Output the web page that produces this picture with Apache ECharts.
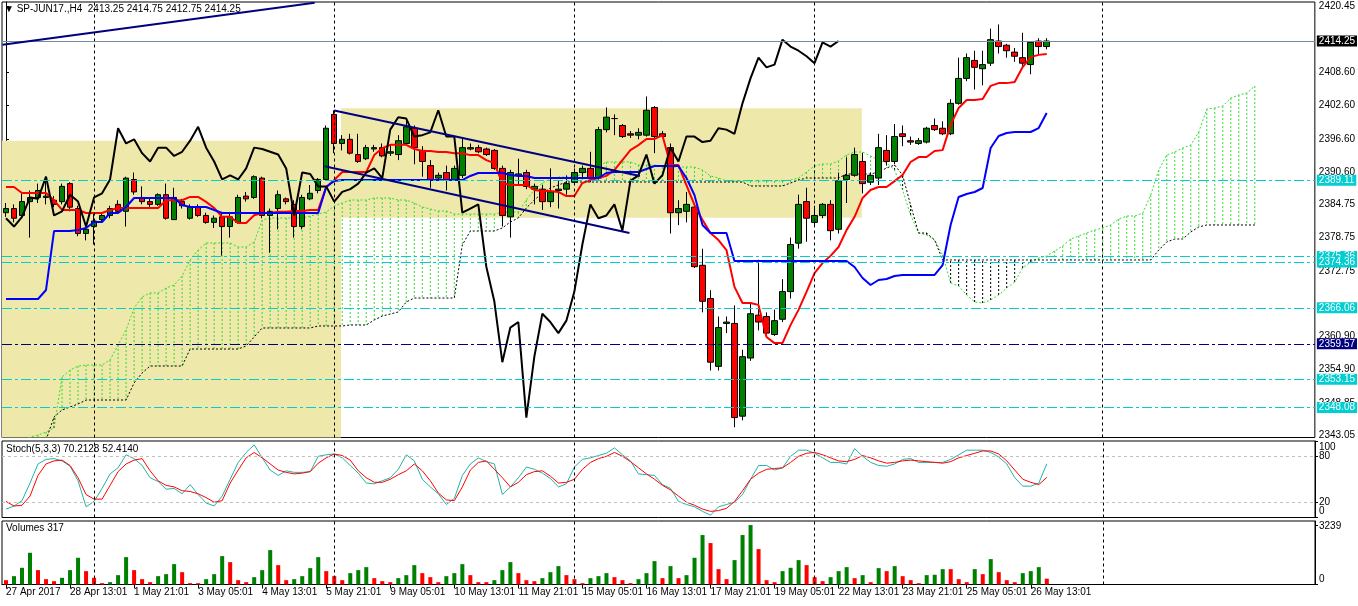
<!DOCTYPE html>
<html>
<head>
<meta charset="utf-8">
<title>SP-JUN17.,H4</title>
<script src="https://cdn.jsdelivr.net/npm/echarts@6.0.0/dist/echarts.min.js"></script>
<style>
  html, body { margin: 0; padding: 0; background: #fff; }
  #chart { width: 1358px; height: 606px; }
</style>
</head>
<body>
<div id="chart"></div>
<script>
// time axis labels, one every 8 bars
const timeLabels = ['27 Apr 2017', '28 Apr 13:01', '1 May 21:01', '3 May 05:01', '4 May 13:01', '5 May 21:01',
  '9 May 05:01', '10 May 13:01', '11 May 21:01', '15 May 05:01', '16 May 13:01', '17 May 21:01',
  '19 May 05:01', '22 May 13:01', '23 May 21:01', '25 May 05:01', '26 May 13:01'];

// H4 bars: [open, close, low, high]
const candles = [
  [2383.25, 2384.0, 2382.5, 2385.0], [2384.0, 2382.25, 2381.5, 2384.75], [2382.75, 2385.25, 2382.25, 2386.75], [2385.25, 2386.0, 2378.75, 2387.25], [2386.0, 2387.25, 2385.0, 2388.5],
  [2386.0, 2386.25, 2384.75, 2389.75], [2385.5, 2384.75, 2384.25, 2386.25], [2385.25, 2388.0, 2384.75, 2388.5], [2388.5, 2384.25, 2383.5, 2388.75], [2384.0, 2379.5, 2379.0, 2384.5],
  [2379.5, 2380.25, 2378.25, 2380.75], [2380.75, 2381.75, 2377.5, 2383.25], [2382.0, 2382.75, 2381.75, 2383.25], [2382.75, 2384.0, 2382.25, 2384.5], [2384.75, 2383.5, 2383.0, 2385.5],
  [2383.5, 2389.5, 2380.75, 2389.75], [2389.25, 2387.0, 2386.5, 2390.5], [2386.0, 2385.25, 2384.75, 2388.0], [2385.25, 2384.75, 2384.25, 2385.75], [2384.75, 2386.5, 2384.5, 2386.75],
  [2386.5, 2382.25, 2382.0, 2388.5], [2382.0, 2386.0, 2382.0, 2387.75], [2385.25, 2384.5, 2384.0, 2385.75], [2382.25, 2384.25, 2382.0, 2384.75], [2384.25, 2382.75, 2382.5, 2384.75],
  [2382.75, 2381.5, 2381.25, 2383.25], [2381.5, 2382.25, 2380.5, 2382.75], [2382.5, 2380.75, 2375.5, 2383.25], [2380.75, 2382.5, 2378.75, 2383.25], [2381.5, 2386.0, 2381.25, 2386.5],
  [2386.25, 2385.75, 2385.25, 2387.0], [2386.0, 2389.75, 2385.75, 2390.0], [2389.5, 2382.75, 2382.25, 2389.75], [2382.75, 2383.5, 2376.0, 2384.0], [2384.0, 2386.5, 2380.25, 2387.25],
  [2385.75, 2385.25, 2384.75, 2386.0], [2384.75, 2380.75, 2378.75, 2385.5], [2380.75, 2386.0, 2380.25, 2386.5], [2385.75, 2386.75, 2385.5, 2388.25], [2387.25, 2389.25, 2386.75, 2389.5],
  [2389.25, 2398.5, 2389.0, 2399.0], [2401.0, 2395.75, 2394.0, 2401.75], [2395.75, 2396.5, 2394.5, 2397.25], [2396.5, 2394.0, 2393.75, 2397.5], [2393.75, 2392.5, 2392.25, 2397.5],
  [2393.0, 2395.0, 2392.75, 2395.5], [2394.75, 2395.0, 2394.25, 2395.5], [2395.0, 2393.5, 2393.25, 2395.75], [2394.0, 2394.25, 2393.5, 2395.5], [2393.75, 2396.25, 2392.75, 2397.25],
  [2395.75, 2398.75, 2395.5, 2400.0], [2398.5, 2395.0, 2392.0, 2399.0], [2394.5, 2392.5, 2389.75, 2395.25], [2391.75, 2389.25, 2387.75, 2392.75], [2389.5, 2390.0, 2389.0, 2390.5],
  [2390.5, 2389.25, 2387.25, 2391.75], [2389.25, 2391.25, 2389.0, 2391.75], [2390.0, 2395.0, 2389.5, 2396.75], [2395.0, 2394.75, 2394.5, 2395.75], [2395.0, 2394.25, 2394.0, 2395.5],
  [2394.75, 2393.75, 2393.5, 2395.0], [2394.5, 2391.25, 2391.0, 2394.75], [2391.25, 2382.75, 2380.75, 2391.75], [2382.5, 2390.5, 2378.75, 2391.0], [2390.0, 2390.25, 2388.25, 2393.0],
  [2390.5, 2388.0, 2387.5, 2391.0], [2387.5, 2388.0, 2384.75, 2388.5], [2387.5, 2385.25, 2383.75, 2388.25], [2385.25, 2387.0, 2384.25, 2391.25], [2387.25, 2387.5, 2384.0, 2389.0],
  [2387.5, 2388.5, 2386.5, 2390.0], [2388.75, 2390.5, 2388.25, 2391.25], [2390.5, 2391.25, 2389.5, 2391.75], [2391.25, 2389.5, 2388.75, 2394.25], [2389.5, 2398.25, 2389.25, 2398.75],
  [2398.25, 2400.5, 2397.75, 2402.25], [2400.25, 2400.25, 2397.25, 2401.0], [2399.0, 2397.0, 2396.75, 2399.25], [2397.5, 2397.25, 2396.75, 2398.0], [2397.25, 2397.75, 2396.5, 2398.5],
  [2397.25, 2401.75, 2397.0, 2404.25], [2402.25, 2397.0, 2394.0, 2402.5], [2397.5, 2397.0, 2396.75, 2398.0], [2395.0, 2383.25, 2379.5, 2395.75], [2383.25, 2384.0, 2381.0, 2385.5],
  [2383.5, 2384.75, 2381.5, 2387.0], [2384.25, 2373.5, 2373.25, 2384.75], [2373.75, 2367.25, 2365.25, 2376.75], [2367.75, 2356.25, 2354.75, 2369.25], [2355.5, 2362.5, 2354.75, 2364.5],
  [2363.25, 2363.5, 2361.5, 2364.5], [2363.25, 2346.25, 2344.5, 2366.5], [2346.5, 2357.25, 2345.75, 2358.5], [2357.0, 2365.0, 2356.5, 2367.0], [2364.75, 2363.5, 2362.0, 2374.75],
  [2364.5, 2361.5, 2360.75, 2365.25], [2361.25, 2363.75, 2361.0, 2365.75], [2364.0, 2369.0, 2363.5, 2371.25], [2369.0, 2377.5, 2367.75, 2378.75], [2377.75, 2384.75, 2376.75, 2386.5],
  [2385.25, 2382.25, 2378.0, 2387.75], [2381.5, 2382.75, 2380.75, 2384.5], [2382.75, 2384.75, 2382.25, 2385.0], [2384.75, 2380.0, 2378.25, 2385.5], [2380.25, 2389.0, 2379.5, 2390.5],
  [2389.25, 2390.0, 2385.0, 2393.25], [2390.0, 2393.75, 2389.75, 2395.0], [2392.5, 2388.5, 2386.75, 2394.0], [2388.75, 2390.0, 2388.25, 2390.5], [2389.5, 2395.0, 2388.25, 2397.5],
  [2394.5, 2392.5, 2391.75, 2397.25], [2392.5, 2397.0, 2392.0, 2399.25], [2397.5, 2397.0, 2395.25, 2399.0], [2396.25, 2396.0, 2395.5, 2397.0], [2395.75, 2396.25, 2395.5, 2396.75],
  [2396.0, 2398.5, 2395.75, 2398.75], [2399.0, 2398.25, 2398.0, 2400.25], [2398.5, 2397.5, 2397.25, 2399.75], [2397.5, 2403.0, 2397.25, 2403.75], [2403.0, 2407.5, 2402.75, 2411.25],
  [2407.5, 2411.25, 2407.0, 2412.0], [2410.75, 2409.5, 2405.5, 2412.5], [2409.25, 2410.0, 2406.25, 2412.5], [2410.25, 2414.5, 2409.75, 2416.5], [2414.25, 2413.25, 2412.0, 2417.25],
  [2413.5, 2412.5, 2411.25, 2413.75], [2412.25, 2411.5, 2410.5, 2413.0], [2411.25, 2410.25, 2409.75, 2415.75], [2410.0, 2414.0, 2408.25, 2414.25], [2414.25, 2413.25, 2411.75, 2414.75],
  [2413.25, 2414.25, 2412.75, 2414.75]
];

// Ichimoku Tenkan-sen (red)
const tenkan = [
  2387.9, 2387.9, 2386.8, 2386.8, 2386.8, 2386.8, 2385.5, 2383.75, 2383.75, 2383.75,
  2383.2, 2383.2, 2383.2, 2383.75, 2384.1, 2384.1, 2384.1, 2384.1, 2384.1, 2384.1,
  2385.5, 2385.5, 2385.5, 2386.1, 2386.1, 2385.2, 2384.1, 2382.5, 2382.5, 2381.4,
  2381.4, 2382.8, 2383.2, 2383.2, 2383.4, 2383.4, 2383.55, 2383.55, 2383.75, 2383.75,
  2387.9, 2389.15, 2390.6, 2390.6, 2390.6, 2390.6, 2393.65, 2394.9, 2395.5, 2395.5,
  2395.5, 2394.75, 2394.4, 2394.4, 2394.2, 2394.2, 2394.0, 2394.0, 2393.65, 2393.65,
  2392.75, 2392.2, 2388.6, 2388.25, 2388.25, 2388.25, 2387.35, 2387.15, 2387.15, 2387.0,
  2386.25, 2386.25, 2388.6, 2389.15, 2389.5, 2389.9, 2390.95, 2392.75, 2394.55, 2395.45,
  2396.55, 2396.55, 2397.25, 2391.85, 2391.85, 2388.25, 2384.65, 2381.95, 2379.6, 2378.3,
  2376.5, 2369.85, 2366.95, 2366.95, 2366.6, 2360.8, 2359.7, 2359.7, 2362.95, 2365.7,
  2368.95, 2372.35, 2374.15, 2375.45, 2377.05, 2380.1, 2382.5, 2385.9, 2387.35, 2387.9,
  2387.9, 2388.95, 2390.05, 2392.4, 2393.3, 2393.3, 2394.4, 2394.55, 2399.1, 2402.15,
  2403.6, 2403.6, 2403.8, 2406.15, 2406.65, 2406.65, 2406.85, 2409.55, 2411.35, 2411.75,
  2411.9
];

// Ichimoku Kijun-sen (blue)
const kijun = [
  2367.66, 2367.66, 2367.66, 2367.66, 2367.66, 2369.29, 2379.94, 2379.94, 2379.94, 2380.12,
  2380.48, 2381.57, 2381.57, 2383.19, 2383.19, 2384.28, 2385.9, 2385.9, 2385.9, 2385.9,
  2385.9, 2385.9, 2384.64, 2384.28, 2384.28, 2384.28, 2383.74, 2383.19, 2383.19, 2383.19,
  2383.19, 2383.19, 2383.19, 2383.19, 2383.19, 2383.19, 2383.19, 2383.19, 2383.19, 2383.19,
  2387.89, 2388.97, 2389.15, 2389.15, 2389.15, 2389.15, 2389.15, 2389.15, 2389.15, 2389.15,
  2389.15, 2389.15, 2389.15, 2389.15, 2389.15, 2389.15, 2389.15, 2389.15, 2389.88, 2390.42,
  2390.42, 2390.42, 2390.42, 2390.06, 2389.88, 2389.88, 2389.51, 2389.51, 2389.51, 2389.51,
  2389.51, 2389.51, 2389.51, 2389.51, 2389.51, 2390.42, 2390.6, 2390.6, 2390.6, 2390.6,
  2391.14, 2391.68, 2391.68, 2391.68, 2391.68, 2389.51, 2386.44, 2381.03, 2379.58, 2379.58,
  2379.58, 2374.53, 2374.53, 2374.53, 2374.53, 2374.53, 2374.53, 2374.53, 2374.53, 2374.53,
  2374.53, 2374.53, 2374.53, 2374.53, 2374.53, 2374.53, 2373.44, 2371.46, 2370.19, 2371.09,
  2371.27, 2371.82, 2372.0, 2372.0, 2372.0, 2372.0, 2372.0, 2373.8, 2381.03, 2386.08,
  2386.62, 2386.99, 2387.71, 2394.93, 2397.1, 2397.64, 2397.82, 2397.82, 2397.82, 2398.54,
  2401.25
];

// Senkou Span A / B, already shifted 26 bars ahead (157 points)
const spanA = [
  2341.30, 2341.30, 2341.84, 2342.74, 2343.10, 2343.64, 2344.37, 2353.58, 2354.84, 2355.56,
  2355.74, 2355.74, 2355.74, 2356.65, 2359.36, 2362.07, 2366.04, 2368.02, 2368.75, 2368.75,
  2369.65, 2370.19, 2371.82, 2374.71, 2376.51, 2377.78, 2377.78, 2377.78, 2377.78, 2377.05,
  2377.05, 2377.96, 2381.93, 2382.29, 2382.29, 2382.29, 2382.29, 2382.29, 2382.65, 2383.01,
  2383.37, 2384.46, 2385.00, 2385.54, 2385.54, 2385.54, 2385.90, 2385.90, 2385.90, 2385.54,
  2385.54, 2385.00, 2384.28, 2383.92, 2383.56, 2383.56, 2383.01, 2383.01, 2383.01, 2383.01,
  2383.01, 2383.01, 2383.37, 2383.37, 2383.37, 2385.54, 2387.35, 2388.61, 2389.33, 2389.70,
  2389.70, 2389.70, 2390.24, 2390.96, 2391.68, 2392.41, 2392.41, 2392.41, 2392.41, 2391.86,
  2391.86, 2391.86, 2391.50, 2391.50, 2391.50, 2391.50, 2391.50, 2390.96, 2389.88, 2389.51,
  2388.97, 2388.97, 2388.97, 2388.97, 2388.97, 2388.97, 2388.97, 2388.97, 2389.15, 2389.51,
  2390.60, 2391.68, 2392.04, 2392.04, 2392.59, 2393.67, 2394.21, 2394.21, 2393.49, 2392.77,
  2392.22, 2390.96, 2387.35, 2382.83, 2379.58, 2379.22, 2378.32, 2375.61, 2370.55, 2370.01,
  2368.39, 2367.12, 2366.94, 2367.48, 2368.39, 2369.65, 2370.73, 2373.26, 2374.35, 2375.07,
  2375.43, 2376.33, 2377.24, 2378.50, 2379.04, 2379.58, 2380.12, 2380.49, 2381.03, 2382.11,
  2382.65, 2382.65, 2383.19, 2386.44, 2390.96, 2393.67, 2394.21, 2394.93, 2395.47, 2397.82,
  2401.98, 2402.16, 2402.52, 2403.96, 2404.50, 2404.87, 2406.13
];
const spanB = [
  2342.20, 2342.20, 2342.20, 2342.20, 2342.20, 2342.20, 2346.36, 2347.62, 2348.16, 2348.70,
  2349.42, 2349.42, 2349.42, 2349.42, 2349.42, 2349.42, 2352.49, 2354.30, 2355.56, 2355.56,
  2355.56, 2355.56, 2355.56, 2358.63, 2358.63, 2358.63, 2358.63, 2358.63, 2358.63, 2358.63,
  2359.18, 2360.80, 2362.43, 2362.43, 2362.43, 2362.43, 2362.43, 2362.43, 2362.43, 2362.79,
  2362.79, 2362.79, 2362.79, 2362.97, 2362.97, 2362.97, 2363.87, 2364.59, 2364.95, 2365.32,
  2367.12, 2367.84, 2367.84, 2367.84, 2367.84, 2367.84, 2367.84, 2377.42, 2379.94, 2379.94,
  2379.94, 2379.94, 2380.49, 2381.57, 2382.29, 2384.10, 2385.54, 2386.81, 2387.71, 2388.25,
  2388.79, 2388.79, 2388.79, 2388.79, 2388.79, 2388.79, 2388.79, 2388.79, 2388.79, 2388.79,
  2388.79, 2388.79, 2388.79, 2388.79, 2388.79, 2388.79, 2388.79, 2388.79, 2388.79, 2388.79,
  2388.79, 2388.79, 2388.79, 2388.07, 2388.07, 2388.07, 2388.07, 2388.07, 2388.61, 2389.15,
  2389.51, 2389.51, 2389.51, 2389.51, 2389.51, 2390.24, 2390.24, 2390.24, 2390.24, 2390.60,
  2391.32, 2391.86, 2390.06, 2384.64, 2379.58, 2379.58, 2378.32, 2374.71, 2374.71, 2374.71,
  2374.71, 2374.71, 2374.71, 2374.71, 2374.71, 2374.71, 2374.71, 2374.71, 2374.71, 2374.71,
  2374.71, 2374.71, 2374.71, 2374.71, 2374.71, 2374.71, 2374.71, 2374.71, 2374.71, 2374.71,
  2374.71, 2374.71, 2374.71, 2374.71, 2376.51, 2377.96, 2378.50, 2378.50, 2379.76, 2380.67,
  2381.03, 2381.03, 2381.03, 2381.03, 2381.03, 2381.03, 2381.03
];

// Stochastic(5,3,3)
const stochK = [
  11, 15, 22, 45, 70, 76, 77, 74, 67, 48,
  14, 21, 38, 57, 65, 82, 77, 68, 52, 47,
  37, 38, 31, 43, 30, 19, 15, 28, 50, 72,
  85, 95, 78, 62, 55, 61, 59, 59, 60, 80,
  82, 83, 78, 68, 58, 45, 44, 48, 52, 63,
  82, 74, 50, 40, 31, 17, 25, 55, 70, 78,
  73, 70, 30, 40, 52, 66, 63, 58, 51, 40,
  44, 66, 76, 78, 81, 84, 91, 82, 74, 57,
  56, 55, 43, 38, 21, 17, 14, 8, 3, 14,
  17, 20, 30, 50, 68, 68, 62, 65, 80, 88,
  88, 84, 78, 72, 72, 70, 90, 80, 72, 68,
  67, 70, 76, 77, 72, 72, 72, 72, 76, 82,
  88, 88, 88, 85, 79, 70, 52, 41, 41, 45,
  70.2128
];
const stochD = [
  21, 15, 16, 28, 55, 70, 74, 75, 68, 52,
  30, 24, 24, 42, 60, 70, 75, 77, 61, 48,
  42, 40, 35, 34, 31, 26, 20, 22, 45, 62,
  78, 85, 78, 70, 62, 59, 57, 58, 60, 71,
  78, 83, 81, 75, 61, 52, 46, 46, 50, 56,
  61, 70, 61, 48, 32, 23, 22, 40, 62, 72,
  74, 63, 52, 40, 46, 56, 60, 61, 54, 45,
  46, 50, 63, 72, 77, 80, 85, 80, 73, 65,
  57, 50, 42, 36, 28, 20, 16, 11, 8, 9,
  12, 21, 35, 50, 58, 63, 64, 65, 72, 80,
  84, 85, 82, 78, 74, 73, 76, 81, 78, 74,
  71, 72, 74, 75, 74, 73, 72, 71, 73, 78,
  81, 84, 87, 87, 83, 74, 62, 50, 46, 43,
  52.414
];

// tick volumes
const volumes = [
  237, 455, 910, 1729, 783, 291, 182, 364, 783, 1456,
  728, 364, 73, 127, 510, 1492, 783, 291, 127, 455,
  564, 1110, 673, 73, 73, 291, 564, 1547, 1219, 237,
  127, 400, 783, 1875, 1056, 237, 291, 455, 892, 1492,
  728, 455, 237, 619, 783, 946, 346, 182, 127, 346,
  510, 1056, 619, 400, 127, 455, 619, 1110, 510, 127,
  127, 237, 783, 1219, 619, 237, 182, 346, 673, 1001,
  510, 291, 73, 346, 455, 619, 400, 237, 73, 291,
  619, 1274, 346, 1001, 346, 510, 1456, 2694, 2257, 837,
  291, 1329, 2694, 3239, 1929, 237, 127, 728, 910, 1329,
  1056, 400, 182, 400, 728, 946, 346, 510, 127, 892,
  728, 1001, 455, 237, 73, 510, 530, 837, 837, 291,
  127, 837, 564, 1383, 673, 237, 127, 619, 728, 946,
  317
];

// price scale labels, levels and chart objects
const priceTicks = [2420.45, 2408.60, 2402.60, 2396.60, 2390.60, 2384.75, 2378.75, 2372.75, 2360.90, 2354.90, 2348.85, 2343.05];
const stochLevels = [20, 80];
const stochBounds = [0, 100];
const volumeTicks = [0, 3239];
const cyanLevels = [2389.11, 2375.36, 2374.36, 2366.06, 2353.15, 2348.08];
const navyLevel = 2359.57;
const lastPrice = 2414.25;
const separators = [11, 41, 71, 101, 137];
const trendTop = [[-0.44, 2413.57], [38.56, 2421.17]];
const channelUpper = [[41, 2401.7], [79.19, 2389.87]];
const channelLower = [[39.8, 2391.65], [77.88, 2379.58]];
const zones = [[[-0.5, 2396.25], [41.85, 2342.65]], [[41.85, 2402.1], [106.9, 2382.35]]];

const FONT = "'Liberation Sans', 'DejaVu Sans', Arial, sans-serif";
const slots = 164;
const cats = Array.from({ length: slots }, (_, i) => i);
const labelAt = i => i % 8 === 0 && i / 8 < timeLabels.length;

const chart = echarts.init(document.getElementById('chart'));

const levelItem = (value, bg, color, type) => ({
  yAxis: value,
  lineStyle: { color: color, type: type, width: 1 },
  label: {
    show: true, position: 'end', distance: 2, formatter: value.toFixed(2),
    color: '#fff', backgroundColor: bg, padding: [1, 2, 0, 2], fontSize: 10, fontFamily: FONT
  }
});
const sepItem = x => ({ xAxis: x, lineStyle: { color: '#000', type: [3, 3], width: 1 }, label: { show: false } });
const dashDot = [10, 3, 3, 3];

const gridBase = { left: 2, right: 43, show: true, borderColor: '#000', borderWidth: 1 };
const yBase = {
  type: 'value', position: 'right', offset: 0, splitLine: { show: false },
  axisLine: { show: true, lineStyle: { color: '#000' } }
};
const labelBase = { color: '#000', fontSize: 10, margin: 4, fontFamily: FONT, hideOverlap: false,
  showMinLabel: true, showMaxLabel: true };
// MT4 draws the 0/100 labels of the stochastic panel a little inside it,
// so they sit on a second, line-less axis of the same panel
const stochBoundLabelAt = [8.1, 91.2];
const volumeLabelAt = [270, 3200];

chart.setOption({
  animation: false,
  textStyle: { fontFamily: FONT },
  title: [
    { text: '\u25BC SP-JUN17.,H4  2413.25 2414.75 2412.75 2414.25', left: 4, top: 4, padding: 0,
      textStyle: { fontSize: 10, fontWeight: 'normal', color: '#000', fontFamily: FONT } },
    { text: 'Stoch(5,3,3) 70.2128 52.4140', left: 6, top: 444, padding: 0,
      textStyle: { fontSize: 10, fontWeight: 'normal', color: '#000', fontFamily: FONT } },
    { text: 'Volumes 317', left: 6, top: 523, padding: 0,
      textStyle: { fontSize: 10, fontWeight: 'normal', color: '#000', fontFamily: FONT } }
  ],
  grid: [
    Object.assign({ top: 2, height: 435.5 }, gridBase),
    Object.assign({ top: 441, height: 76.5 }, gridBase),
    Object.assign({ top: 521, height: 63.5 }, gridBase)
  ],
  xAxis: [
    { type: 'category', gridIndex: 0, data: cats, show: false },
    { type: 'category', gridIndex: 1, data: cats, show: false },
    { type: 'category', gridIndex: 2, data: cats,
      axisLine: { lineStyle: { color: '#000' } },
      axisTick: { show: true, interval: i => labelAt(i), alignWithLabel: true, length: 4, lineStyle: { color: '#000' } },
      axisLabel: { interval: i => labelAt(i), formatter: (v, i) => timeLabels[i / 8], align: 'left',
        margin: 3, color: '#000', fontSize: 10, fontFamily: FONT } },
    { type: 'value', gridIndex: 0, min: -0.5, max: slots - 0.5, show: false }
  ],
  yAxis: [
    Object.assign({}, yBase, {
      gridIndex: 0, min: 2342.65, max: 2421.3,
      axisTick: { show: true, length: 3, customValues: priceTicks, lineStyle: { color: '#000' } },
      axisLabel: Object.assign({}, labelBase, { customValues: priceTicks, formatter: v => v.toFixed(2) })
    }),
    Object.assign({}, yBase, {
      gridIndex: 1, min: 0, max: 100,
      axisTick: { show: true, length: 3, customValues: stochBounds.concat(stochLevels), lineStyle: { color: '#000' } },
      axisLabel: Object.assign({}, labelBase, { customValues: stochLevels, formatter: v => String(v) })
    }),
    Object.assign({}, yBase, {
      gridIndex: 2, min: 0, max: 3460,
      axisTick: { show: true, length: 3, customValues: volumeTicks, lineStyle: { color: '#000' } },
      axisLabel: Object.assign({}, labelBase, {
        customValues: volumeLabelAt,
        formatter: v => String(volumeTicks[volumeLabelAt.indexOf(v)])
      })
    }),
    Object.assign({}, yBase, {
      gridIndex: 1, min: 0, max: 100,
      axisLine: { show: false }, axisTick: { show: false },
      axisLabel: Object.assign({}, labelBase, {
        customValues: stochBoundLabelAt,
        formatter: v => String(stochBounds[stochBoundLabelAt.indexOf(v)])
      })
    })
  ],
  series: [
    // rectangle objects
    { type: 'line', xAxisIndex: 3, yAxisIndex: 0, z: 0, silent: true, symbol: 'none',
      data: [zones[0][0]], lineStyle: { width: 0 },
      markArea: { silent: true, itemStyle: { color: '#EEE8AA' },
        data: zones.map(r => [{ coord: r[0] }, { coord: r[1] }]) } },
    // kumo hatching
    { type: 'custom', xAxisIndex: 0, yAxisIndex: 0, z: 1, silent: true, clip: true,
      encode: { x: 0, y: [1, 2] },
      data: spanA.map((a, i) => [i, a, spanB[i]]),
      renderItem: (params, api) => {
        const a = api.value(1), b = api.value(2);
        const p1 = api.coord([api.value(0), a]);
        const p2 = api.coord([api.value(0), b]);
        return { type: 'line', shape: { x1: p1[0], y1: p1[1], x2: p2[0], y2: p2[1] },
          style: { stroke: a >= b ? '#33dd33' : '#000', lineWidth: 1, lineDash: [2, 2] } };
      } },
    { type: 'line', name: 'Senkou A', xAxisIndex: 0, yAxisIndex: 0, z: 1, silent: true, symbol: 'none',
      data: spanA, lineStyle: { color: '#33dd33', type: [2, 2], width: 1 } },
    { type: 'line', name: 'Senkou B', xAxisIndex: 0, yAxisIndex: 0, z: 1, silent: true, symbol: 'none',
      data: spanB, lineStyle: { color: '#000', type: [2, 2], width: 1 } },
    // price
    { type: 'candlestick', xAxisIndex: 0, yAxisIndex: 0, z: 3, barWidth: 6, data: candles,
      itemStyle: { color: '#008000', color0: '#ff0000', borderColor: '#000', borderColor0: '#000', borderWidth: 1 },
      markLine: { silent: true, symbol: ['none', 'none'],
        data: separators.map(sepItem)
          .concat(cyanLevels.map(v => levelItem(v, '#00CED1', '#00CED1', dashDot)))
          .concat([levelItem(navyLevel, '#000080', '#000080', dashDot), levelItem(lastPrice, '#000', '#778899', 'solid')]) } },
    { type: 'line', name: 'Tenkan', xAxisIndex: 0, yAxisIndex: 0, z: 4, silent: true, symbol: 'none',
      data: tenkan, lineStyle: { color: '#ff0000', width: 2 } },
    { type: 'line', name: 'Kijun', xAxisIndex: 0, yAxisIndex: 0, z: 4, silent: true, symbol: 'none',
      data: kijun, lineStyle: { color: '#0000ff', width: 2 } },
    { type: 'line', name: 'Chikou', xAxisIndex: 0, yAxisIndex: 0, z: 4, silent: true, symbol: 'none',
      data: candles.slice(26).map(c => c[1]), lineStyle: { color: '#000', width: 2 } },
    // trendlines
    { type: 'line', xAxisIndex: 3, yAxisIndex: 0, z: 6, silent: true, symbol: 'none', data: trendTop,
      lineStyle: { color: '#000080', width: 2 } },
    { type: 'line', xAxisIndex: 3, yAxisIndex: 0, z: 6, silent: true, symbol: 'none', data: channelUpper,
      lineStyle: { color: '#000080', width: 2 } },
    { type: 'line', xAxisIndex: 3, yAxisIndex: 0, z: 6, silent: true, symbol: 'none', data: channelLower,
      lineStyle: { color: '#000080', width: 2 } },
    // stochastic
    { type: 'line', name: '%K', xAxisIndex: 1, yAxisIndex: 1, silent: true, symbol: 'none',
      data: stochK, lineStyle: { color: '#20B2AA', width: 1 } },
    { type: 'line', name: '%D', xAxisIndex: 1, yAxisIndex: 1, silent: true, symbol: 'none',
      data: stochD, lineStyle: { color: '#ff0000', width: 1 },
      markLine: { silent: true, symbol: ['none', 'none'],
        data: stochLevels.map(v => ({ yAxis: v, lineStyle: { color: '#C0C0C0', type: [3, 3], width: 1 }, label: { show: false } }))
          .concat(separators.map(sepItem)) } },
    // volumes
    { type: 'bar', xAxisIndex: 2, yAxisIndex: 2, silent: true, barWidth: 4,
      data: volumes.map((v, i) => ({ value: v, itemStyle: { color: i > 0 && v > volumes[i - 1] ? '#008000' : '#ff0000' } })),
      markLine: { silent: true, symbol: ['none', 'none'], data: separators.map(sepItem) } }
  ]
});
</script>
</body>
</html>
